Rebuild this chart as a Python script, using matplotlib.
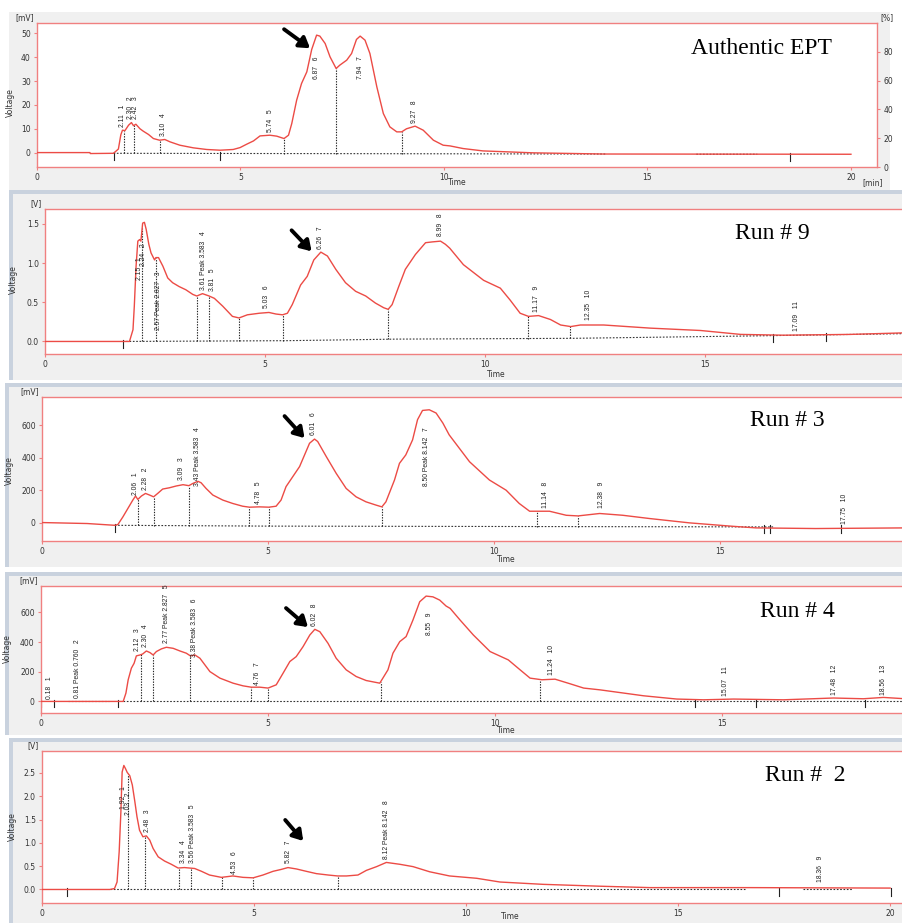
import numpy as np
import matplotlib
matplotlib.use('Agg')
import matplotlib.pyplot as plt
from matplotlib.patches import Rectangle

W, H = 902, 923
RED = '#ec4b45'
FRAME = '#f08080'
GREY = '#f0f0f0'
BAR = '#c9d2de'
nan = np.nan

# ---------------- Authentic EPT  [mV] ----------------
ept_time = [0, 1.30, 1.31, 1.88, 2.00, 2.06, 2.10, 2.16, 2.25, 2.32, 2.37, 2.43, 2.53, 2.61, 2.74,
            2.86, 3.01, 3.14, 3.27, 3.51, 3.84, 4.17, 4.50, 4.82, 4.99, 5.15, 5.32, 5.48, 5.72, 5.89,
            6.07, 6.18, 6.26, 6.38, 6.50, 6.63, 6.75, 6.87, 6.95, 7.08, 7.20, 7.35, 7.44, 7.61, 7.73,
            7.85, 7.94, 8.06, 8.18, 8.35, 8.51, 8.67, 8.84, 8.96, 9.08, 9.29, 9.49, 9.74, 9.98, 10.15,
            10.47, 10.96, 12.19, 13.91, 20.0]
ept_volt = [0, 0, -0.4, -0.3, 1.5, 7.5, 9.4, 9.2, 11.5, 12.6, 11.3, 11.9, 10.0, 9.0, 7.6,
            5.9, 5.2, 5.5, 4.5, 3.1, 2.0, 1.3, 1.0, 1.3, 2.1, 3.5, 4.9, 7.0, 7.3, 6.9,
            5.9, 7.3, 12.2, 22.0, 29.0, 33.9, 43.3, 49.3, 48.9, 45.8, 40.2, 35.3, 36.7, 38.8, 41.6,
            47.5, 48.9, 47.2, 41.6, 27.6, 16.4, 10.8, 8.7, 8.7, 10.0, 11.1, 9.4, 5.2, 3.1, 2.8,
            1.7, 0.7, -0.1, -0.6, -0.7]
ept_base_t = [1.88, 14.0, nan, 16.2, 17.7]
ept_base_v = [-0.3, -0.6, nan, -0.7, -0.7]
ept_drops = [2.14, 2.38, 3.02, 6.07, 7.35, 8.96]
ept_ticks = [1.88, 4.50, 18.5]
ept_rt = ['2.11', '2.30', '2.42', '3.10', '5.74', '6.87', '7.94', '9.27']
ept_lab_v = [10.8, 14.0, 14.0, 6.9, 8.7, 31.1, 30.8, 12.5]

# ---------------- Run # 9  [V] ----------------
r9_time = [0, 1.88, 1.92, 2.00, 2.03, 2.07, 2.11, 2.15, 2.18, 2.22, 2.26, 2.30, 2.36, 2.41, 2.49,
           2.52, 2.58, 2.68, 2.79, 2.90, 3.05, 3.20, 3.36, 3.45, 3.58, 3.73, 3.85, 4.04, 4.26, 4.41,
           4.60, 4.87, 5.09, 5.25, 5.40, 5.51, 5.62, 5.81, 5.96, 6.11, 6.27, 6.42, 6.61, 6.83, 7.06,
           7.29, 7.51, 7.70, 7.80, 7.89, 8.04, 8.19, 8.42, 8.65, 8.80, 8.99, 9.10, 9.20, 9.51, 9.97,
           10.35, 10.57, 10.80, 10.99, 11.22, 11.49, 11.72, 11.95, 12.17, 12.70, 13.76, 14.90, 15.81,
           16.79, 18.30, 19.55]
r9_volt = [0, 0, 0.0, 0.15, 0.45, 0.96, 1.28, 1.30, 1.28, 1.51, 1.52, 1.43, 1.24, 1.13, 1.04,
           1.07, 1.07, 0.96, 0.81, 0.75, 0.70, 0.66, 0.60, 0.58, 0.61, 0.58, 0.55, 0.45, 0.32, 0.30,
           0.34, 0.36, 0.37, 0.35, 0.34, 0.36, 0.47, 0.72, 0.83, 1.04, 1.14, 1.09, 0.92, 0.75, 0.64,
           0.58, 0.49, 0.43, 0.41, 0.47, 0.70, 0.92, 1.11, 1.26, 1.27, 1.28, 1.24, 1.19, 0.98, 0.78,
           0.68, 0.53, 0.36, 0.32, 0.33, 0.28, 0.21, 0.19, 0.21, 0.21, 0.17, 0.14, 0.09,
           0.08, 0.09, 0.11]
r9_base_t = [1.77, 5.5, 8.0, 12.0, 16.0, 19.55]
r9_base_v = [0, 0.01, 0.03, 0.04, 0.07, 0.10]
r9_drops = [2.21, 2.52, 3.45, 3.73, 4.41, 5.40, 7.80, 10.99, 11.93]
r9_ticks = [1.77, 16.54, 17.75]
r9_rt = ['2.15', '2.24', '2.57 Peak 2.827', '3.61 Peak 3.583', '3.81', '5.03', '6.26', '8.99',
         '11.17', '12.35', '17.09']
r9_lab_v = [0.79, 0.96, 0.15, 0.66, 0.64, 0.43, 1.18, 1.34, 0.38, 0.28, 0.13]

# ---------------- Run # 3  [mV] ----------------
r3_time = [0, 1.0, 1.61, 1.68, 1.79, 1.90, 2.01, 2.07, 2.12, 2.20, 2.29, 2.38, 2.47, 2.56, 2.67,
           2.82, 2.97, 3.12, 3.25, 3.34, 3.45, 3.52, 3.63, 3.78, 4.00, 4.22, 4.44, 4.59, 4.81, 5.02,
           5.18, 5.29, 5.40, 5.55, 5.70, 5.81, 5.92, 6.03, 6.10, 6.29, 6.51, 6.73, 6.95, 7.17, 7.39,
           7.52, 7.61, 7.80, 7.91, 8.05, 8.20, 8.31, 8.42, 8.57, 8.72, 8.87, 9.01, 9.46, 9.90, 10.27,
           10.56, 10.79, 11.23, 11.60, 11.86, 12.34, 12.85, 13.44, 14.33, 15.28, 15.80, 17.12, 19.1]
r3_volt = [0, -6, -17, -12, 35, 87, 139, 164, 143, 164, 180, 170, 159, 180, 207,
           215, 226, 234, 228, 242, 255, 246, 211, 170, 139, 118, 101, 95, 97, 95,
           101, 139, 222, 284, 346, 418, 490, 516, 501, 408, 304, 211, 159, 128, 108,
           97, 128, 263, 366, 418, 511, 636, 693, 697, 677, 615, 542, 376, 263, 200,
           118, 70, 70, 45, 41, 56, 45, 25, -2, -23, -33, -37, -33]
r3_base_t = [1.61, 5.0, 16.2]
r3_base_v = [-17, -22, -27]
r3_drops = [2.12, 2.47, 3.25, 4.59, 5.02, 7.52, 10.95, 11.86]
r3_ticks = [1.61, 15.98, 16.10, 17.68]
r3_rt = ['2.06', '2.28', '3.09', '3.43 Peak 3.583', '4.78', '6.01', '8.50 Peak 8.142', '11.14',
         '12.38', '17.75']
r3_lab_v = [170, 201, 263, 226, 114, 542, 226, 93, 87, -6]

# ---------------- Run # 4  [mV] ----------------
r4_time = [0, 1.81, 1.87, 1.92, 1.99, 2.05, 2.10, 2.18, 2.24, 2.32, 2.40, 2.47, 2.54, 2.65, 2.76,
           2.91, 3.06, 3.20, 3.29, 3.39, 3.50, 3.72, 3.94, 4.23, 4.45, 4.63, 4.82, 5.00, 5.18, 5.33,
           5.48, 5.62, 5.77, 5.92, 6.03, 6.14, 6.32, 6.50, 6.72, 6.94, 7.16, 7.46, 7.64, 7.75, 7.90,
           8.04, 8.19, 8.34, 8.48, 8.63, 8.78, 8.92, 9.01, 9.23, 9.52, 9.89, 10.29, 10.55, 10.77, 11.03,
           11.32, 11.65, 11.95, 12.31, 13.27, 14.00, 14.59, 15.25, 16.35, 17.45, 18.11, 18.55, 19.03]
r4_volt = [0, 0, 56, 146, 224, 257, 307, 313, 320, 340, 329, 313, 336, 354, 365,
           358, 340, 325, 307, 313, 291, 201, 157, 123, 105, 96, 96, 90, 112, 190,
           269, 302, 369, 448, 486, 470, 392, 291, 213, 168, 141, 123, 213, 325, 403,
           437, 548, 672, 710, 705, 683, 643, 627, 548, 448, 336, 280, 213, 157, 146,
           150, 119, 90, 78, 38, 16, 11, 16, 11, 23, 18, 27, 18]
r4_base_t = [0.6, 1.5, nan, 1.81, 19.03]
r4_base_v = [0, 0, nan, 0, 0]
r4_drops = [2.21, 2.47, 3.29, 4.63, 5.00, 7.48, 10.99]
r4_ticks = [0.01, 0.29, 1.69, 14.4, 15.75, 18.14]
r4_rt = ['0.18', '0.81 Peak 0.760', '2.12', '2.30', '2.77 Peak 2.827', '3.38 Peak 3.583', '4.76',
         '6.02', '8.55', '11.24', '15.07', '17.48', '18.56']
r4_lab_v = [16, 22, 340, 365, 392, 298, 112, 508, 448, 179, 38, 45, 45]

# ---------------- Run # 2  [V] ----------------
r2_time = [0, 1.60, 1.71, 1.77, 1.82, 1.86, 1.89, 1.93, 1.97, 2.01, 2.07, 2.13, 2.19, 2.24, 2.30,
           2.38, 2.46, 2.54, 2.62, 2.74, 2.89, 3.05, 3.21, 3.36, 3.60, 3.76, 3.95, 4.23, 4.50, 4.74,
           4.98, 5.21, 5.45, 5.64, 5.80, 6.00, 6.23, 6.47, 6.75, 6.97, 7.18, 7.45, 7.65, 7.89, 8.12,
           8.44, 8.75, 9.14, 9.61, 10.25, 10.80, 11.82, 13.16, 14.34, 16.70, 20.0]
r2_volt = [0, 0, 0.02, 0.16, 0.81, 1.66, 2.52, 2.66, 2.59, 2.51, 2.44, 2.24, 1.88, 1.56, 1.27,
           1.13, 1.15, 1.06, 0.88, 0.70, 0.61, 0.54, 0.46, 0.47, 0.45, 0.39, 0.31, 0.26, 0.29, 0.26,
           0.25, 0.31, 0.39, 0.43, 0.47, 0.44, 0.39, 0.34, 0.31, 0.29, 0.29, 0.31, 0.41, 0.49, 0.58,
           0.54, 0.49, 0.38, 0.29, 0.24, 0.16, 0.11, 0.07, 0.04, 0.04, 0.03]
r2_base_t = [1.6, 16.6, nan, 17.95, 19.1]
r2_base_v = [0, 0, nan, 0, 0]
r2_drops = [2.03, 2.44, 3.22, 3.52, 4.25, 4.98, 6.97]
r2_ticks = [0.59, 17.38, 20.03]
r2_rt = ['1.92', '2.03', '2.48', '3.34', '3.56 Peak 3.583', '4.53', '5.82', '8.12 Peak 8.142', '18.36']
r2_lab_v = [1.72, 1.59, 1.24, 0.56, 0.56, 0.34, 0.56, 0.65, 0.16]

titles = ['Authentic EPT', 'Run # 9', 'Run # 3', 'Run # 4', 'Run #  2']
units = ['[mV]', '[V]', '[mV]', '[mV]', '[V]']
arrow_tips = [(6.71, 43.8), (6.06, 1.15), (5.81, 522), (5.88, 501), (6.16, 1.04)]

# layout (pixels): axes left, top, right, bottom and data limits
layout = [
    dict(box=(37, 23, 877, 167), xlim=(0, 20.64), ylim=(-6.05, 54.4), yt=[0, 10, 20, 30, 40, 50],
         fmt='{:.0f}', title_xy=(0.778, 0.826), arrow_off=(-26, 19), time_xy=(0.50, -0.11),
         ylab_xy=(-0.026, 0.45), bg=(9, 12, 881, 178)),
    dict(box=(45, 209, 902, 354), xlim=(0, 19.48), ylim=(-0.16, 1.69), yt=[0, 0.5, 1.0, 1.5],
         fmt='{:.1f}', title_xy=(0.805, 0.834), arrow_off=(-20, 21), time_xy=(0.527, -0.138),
         ylab_xy=(-0.031, 0.51), bg=(9, 190, 893, 190)),
    dict(box=(42, 397, 902, 541), xlim=(0, 19.03), ylim=(-114, 776), yt=[0, 200, 400, 600],
         fmt='{:.0f}', title_xy=(0.823, 0.840), arrow_off=(-20, 22), time_xy=(0.54, -0.13),
         ylab_xy=(-0.033, 0.49), bg=(5, 383, 897, 184)),
    dict(box=(41, 586, 902, 713), xlim=(0, 18.96), ylim=(-78, 778), yt=[0, 200, 400, 600],
         fmt='{:.0f}', title_xy=(0.835, 0.798), arrow_off=(-22, 19), time_xy=(0.54, -0.134),
         ylab_xy=(-0.034, 0.51), bg=(5, 572, 897, 163)),
    dict(box=(42, 751, 902, 903), xlim=(0, 20.28), ylim=(-0.29, 2.97), yt=[0, 0.5, 1.0, 1.5, 2.0, 2.5],
         fmt='{:.1f}', title_xy=(0.841, 0.838), arrow_off=(-18, 21), time_xy=(0.545, -0.09),
         ylab_xy=(-0.029, 0.50), bg=(9, 738, 893, 185)),
]

series = [
    (ept_time, ept_volt, ept_base_t, ept_base_v, ept_drops, ept_ticks, ept_rt, ept_lab_v),
    (r9_time, r9_volt, r9_base_t, r9_base_v, r9_drops, r9_ticks, r9_rt, r9_lab_v),
    (r3_time, r3_volt, r3_base_t, r3_base_v, r3_drops, r3_ticks, r3_rt, r3_lab_v),
    (r4_time, r4_volt, r4_base_t, r4_base_v, r4_drops, r4_ticks, r4_rt, r4_lab_v),
    (r2_time, r2_volt, r2_base_t, r2_base_v, r2_drops, r2_ticks, r2_rt, r2_lab_v),
]


def fig_box(x, y, w, h):
    # pixel box (top-left origin) -> figure fraction rectangle
    return Rectangle((x / W, 1 - (y + h) / H), w / W, h / H, transform=fig.transFigure)


fig = plt.figure(figsize=(W / 100, H / 100), dpi=100)
fig.patch.set_facecolor('white')

for i, (lay, ser) in enumerate(zip(layout, series)):
    t, v, bt, bv, drops, ticks, rts, lab_v = ser
    t = np.array(t, float)
    v = np.array(v, float)
    bt = np.array(bt, float)
    bv = np.array(bv, float)

    # grey window background behind each chromatogram
    bx, by, bw, bh = lay['bg']
    for (x, y, w, h, c, z) in [(bx, by, bw, bh, GREY, -5), (bx, by, bw, 4, BAR, -4), (bx, by, 4, bh, BAR, -4)]:
        if i == 0 and c == BAR:
            continue
        r = fig_box(x, y, w, h)
        r.set_facecolor(c)
        r.set_edgecolor('none')
        r.set_zorder(z)
        fig.add_artist(r)

    l, tp, rgt, b = lay['box']
    ax = fig.add_axes([l / W, 1 - b / H, (rgt - l) / W, (b - tp) / H])
    ax.set_facecolor('white')
    ax.set_xlim(*lay['xlim'])
    ax.set_ylim(*lay['ylim'])
    for s in ax.spines.values():
        s.set_color(FRAME)
        s.set_linewidth(1.0)
    if i > 0:
        ax.spines['right'].set_visible(False)

    # baseline and peak drop lines
    ax.plot(bt, bv, color='#333333', ls=(0, (1.5, 1.5)), lw=0.8, zorder=2)
    ok = ~np.isnan(bt)
    for d in drops:
        top = np.interp(d, t, v)
        bot = np.interp(d, bt[ok], bv[ok])
        ax.plot([d, d], [bot, top], color='#222222', ls=(0, (1.2, 1.2)), lw=0.8, zorder=2)
    span = lay['ylim'][1] - lay['ylim'][0]
    for tk in ticks:
        base = np.interp(tk, bt[ok], bv[ok]) if tk >= bt[ok][0] else bv[ok][0]
        ax.plot([tk, tk], [base - 0.045 * span, base + 0.01 * span], color='#222222', lw=0.8, zorder=2)

    ax.plot(t, v, color=RED, lw=1.0, zorder=3)

    # peak annotations
    for n, (rt, lv) in enumerate(zip(rts, lab_v), start=1):
        x = float(rt.split()[0])
        ax.text(x, lv, f'{rt}   {n}', rotation=90, ha='center', va='bottom',
                fontsize=4.9, family='Liberation Sans', color='#222222', zorder=4)

    xt = [x for x in [0, 5, 10, 15, 20] if x <= lay['xlim'][1]]
    ax.set_xticks(xt)
    ax.set_xticklabels([str(x) for x in xt])
    ax.set_yticks(lay['yt'])
    ax.set_yticklabels([lay['fmt'].format(y) for y in lay['yt']])
    ax.tick_params(labelsize=5.5, colors=FRAME, labelcolor='#333333', length=2.5, width=0.8, pad=2)
    ax.set_ylabel('Voltage', fontsize=5.5, color='#333333')
    ax.yaxis.set_label_coords(*lay['ylab_xy'])
    ax.text(*lay['time_xy'], 'Time', transform=ax.transAxes, fontsize=5.5, color='#333333',
            ha='center', va='center')
    ax.text(-0.004, 1.005, units[i], transform=ax.transAxes, fontsize=5.5, color='#333333',
            ha='right', va='bottom')

    ax.text(*lay['title_xy'], titles[i], transform=ax.transAxes, fontsize=17,
            family='Liberation Serif', ha='left', va='center', color='black')

    ax.annotate('', xy=arrow_tips[i], xytext=lay['arrow_off'], textcoords='offset pixels',
                arrowprops=dict(arrowstyle='-|>,head_length=0.6,head_width=0.38', color='black',
                                lw=2.8, shrinkA=0, shrinkB=0), zorder=5)

    if i == 0:
        ax2 = ax.twinx()
        ax2.set_ylim(0, 100)
        ax2.set_yticks([0, 20, 40, 60, 80])
        ax2.tick_params(labelsize=5.5, colors=FRAME, labelcolor='#333333', length=2.5, width=0.8, pad=2)
        for s in ax2.spines.values():
            s.set_visible(False)
        ax2.text(1.004, 1.005, '[%]', transform=ax.transAxes, fontsize=5.5, color='#333333',
                 ha='left', va='bottom')
        ax.text(1.007, -0.11, '[min]', transform=ax.transAxes, fontsize=5.5, color='#333333',
                ha='right', va='center')

fig.savefig('out.png', dpi=100)
